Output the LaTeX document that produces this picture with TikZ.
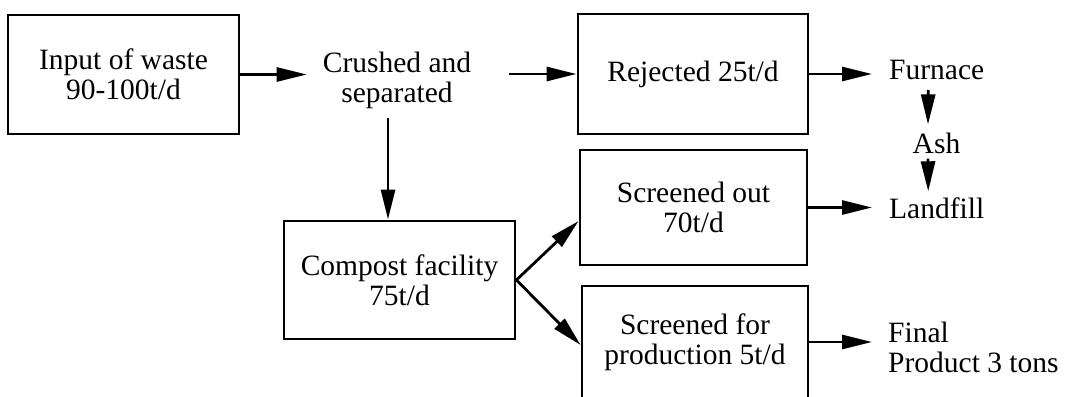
\documentclass[tikz,border=0pt]{standalone}
\usepackage{fontspec}
\setmainfont{Liberation Serif}
\usetikzlibrary{arrows.meta,calc}
\begin{document}
\begin{tikzpicture}[x=1pt,y=-1pt,
  every node/.style={font=\fontsize{29.5}{30}\selectfont, align=center},
  box/.style={draw, line width=2.8pt, inner sep=0pt},
  lbl/.style={inner sep=0pt},
  flow/.style={line width=2.8pt, -{Triangle[length=30pt,width=14pt]}}]
% page frame
\clip (0,0) rectangle (1067,396);
\fill[white] (0,0) rectangle (1067,396);

% process boxes and labels
\node[box, minimum width=231pt, minimum height=119pt] (inp) at (123.5,74.5) {Input of waste\\90-100t/d};
\node[lbl] (crush) at (397,80) {Crushed and\\separated};
\node[box, minimum width=230pt, minimum height=120pt] (rej) at (693,74) {Rejected 25t/d};
\node[box, minimum width=231pt, minimum height=118pt] (comp) at (399.5,280) {Compost facility\\75t/d};
\node[box, minimum width=227pt, minimum height=115pt] (so) at (693.5,207.5) {Screened out\\70t/d};
\node[box, minimum width=226pt, minimum height=112pt] (sp) at (695,342) {Screened for\\production 5t/d};
\node[lbl, anchor=west, inner xsep=17pt] (fur) at (872,70) {Furnace};
\node[lbl] (ash) at (936.5,143) {Ash};
\node[lbl, anchor=west, inner xsep=17pt] (land) at (872,208) {Landfill};
\node[lbl, anchor=west, inner xsep=16pt, align=left] (fin) at (872,347) {Final\\Product 3 tons};

% flows
\draw[flow] (inp.east) -- ($(inp.east -| crush.west)+(-16,0)$);
\draw[flow] ($(crush.east |- rej.west)+(38,0)$) -- (rej.west);
\draw[flow] ($(crush.south)+(-9,9)$) -- ($(comp.north)+(-11.5,0)$);
\draw[flow] (comp.east) -- ($(so.west)+(0,13.5)$);
\draw[flow] (comp.east) -- ($(sp.west)+(0,3)$);
\draw[flow] (rej.east) -- (rej.east -| fur.west);
\draw[flow] (so.east) -- (so.east -| land.west);
\draw[flow] (sp.east) -- (sp.east -| fin.west);
\draw[flow] ($(fur.south)+(-8.5,10)$) -- ($(ash.north)+(-8.5,-8)$);
\draw[flow] ($(ash.south)+(-8.5,5)$) -- ($(land.north)+(-8.5,-6)$);
\end{tikzpicture}
\end{document}
